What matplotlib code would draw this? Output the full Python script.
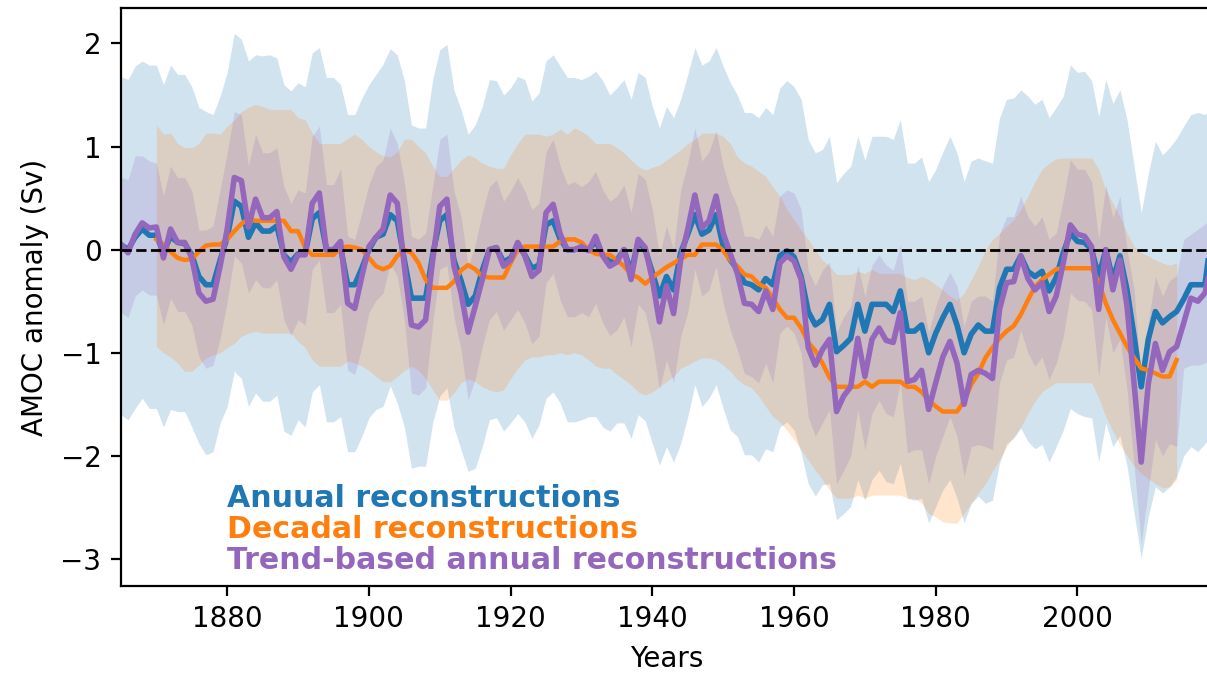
import numpy as np
import matplotlib.pyplot as plt

# annual years 1865-2019, decadal 1870-2014
years = np.arange(1865, 2020)
years_dec = np.arange(1870, 2015)

annual = [
    0.05, 0.0, 0.12, 0.2, 0.14, 0.14, -0.03, 0.13, 0.07, 0.06,
    -0.05, -0.26, -0.34, -0.34, -0.1, 0.12, 0.47, 0.42, 0.12, 0.26,
    0.18, 0.18, 0.23, -0.05, -0.12, -0.04, -0.04, 0.3, 0.36, 0.0,
    0.0, 0.02, -0.34, -0.34, -0.18, 0.0, 0.12, 0.15, 0.34, 0.28,
    -0.1, -0.47, -0.47, -0.47, -0.05, 0.28, 0.34, -0.1, -0.3, -0.53,
    -0.45, -0.2, 0.0, 0.02, -0.12, -0.08, 0.05, -0.05, -0.18, -0.15,
    0.24, 0.28, 0.1, 0.0, 0.0, 0.02, 0.0, 0.08, -0.05, -0.12,
    -0.1, 0.0, -0.22, 0.08, 0.0, -0.22, -0.45, -0.26, -0.39, -0.03,
    0.15, 0.34, 0.15, 0.19, 0.34, 0.03, -0.1, -0.19, -0.32, -0.34,
    -0.39, -0.28, -0.34, -0.06, -0.01, -0.07, -0.26, -0.6, -0.73, -0.68,
    -0.53, -0.99, -0.93, -0.86, -0.53, -0.79, -0.53, -0.53, -0.53, -0.6,
    -0.4, -0.79, -0.79, -0.73, -1.0, -0.81, -0.66, -0.53, -0.73, -1.0,
    -0.82, -0.73, -0.79, -0.79, -0.37, -0.19, -0.19, -0.06, -0.21, -0.26,
    -0.21, -0.4, -0.27, -0.03, 0.16, 0.08, 0.07, 0.0, -0.26, 0.0,
    -0.29, -0.06, -0.39, -0.84, -1.33, -0.87, -0.6, -0.71, -0.65, -0.6,
    -0.48, -0.34, -0.34, -0.34, 0.2,
]
annual_hi = [
    1.68, 1.65, 1.78, 1.83, 1.79, 1.79, 1.6, 1.79, 1.7, 1.7,
    1.58, 1.38, 1.34, 1.31, 1.49, 1.72, 2.1, 2.04, 1.83, 1.89,
    1.88, 1.89, 1.86, 1.6, 1.54, 1.62, 1.58, 1.91, 1.96, 1.67,
    1.67, 1.6, 1.31, 1.31, 1.47, 1.6, 1.7, 1.8, 1.95, 1.89,
    1.64, 1.21, 1.18, 1.18, 1.65, 1.94, 1.99, 1.55, 1.36, 1.12,
    1.21, 1.39, 1.65, 1.64, 1.5, 1.57, 1.68, 1.65, 1.44, 1.52,
    1.83, 1.89, 1.78, 1.67, 1.67, 1.65, 1.68, 1.73, 1.64, 1.5,
    1.57, 1.65, 1.46, 1.72, 1.67, 1.39, 1.18, 1.39, 1.28, 1.46,
    1.7, 1.96, 1.79, 1.83, 1.96, 1.78, 1.62, 1.5, 1.33, 1.33,
    1.28, 1.38, 1.31, 1.57, 1.64, 1.58, 1.46, 1.07, 0.94, 0.97,
    1.1, 0.65, 0.74, 0.81, 1.1, 0.87, 1.1, 1.1, 1.1, 1.07,
    1.26, 0.84, 0.84, 0.9, 0.66, 0.78, 0.95, 1.1, 0.94, 0.66,
    0.86, 0.89, 0.86, 0.84, 1.28, 1.46, 1.47, 1.55, 1.49, 1.41,
    1.46, 1.28, 1.38, 1.49, 1.79, 1.72, 1.73, 1.64, 1.29, 1.65,
    1.42, 1.55, 1.26, 0.81, 0.36, 0.74, 1.05, 0.92, 0.99, 1.08,
    1.2, 1.31, 1.33, 1.31, 1.4,
]
annual_lo = [
    -1.6, -1.65, -1.54, -1.44, -1.54, -1.54, -1.72, -1.55, -1.57, -1.57,
    -1.72, -1.88, -1.99, -1.96, -1.68, -1.52, -1.18, -1.25, -1.52, -1.39,
    -1.47, -1.47, -1.41, -1.76, -1.8, -1.65, -1.72, -1.38, -1.31, -1.67,
    -1.67, -1.62, -1.96, -1.96, -1.81, -1.63, -1.55, -1.52, -1.32, -1.49,
    -1.72, -2.12, -2.1, -2.1, -1.68, -1.42, -1.34, -1.72, -1.94, -2.15,
    -2.12, -1.91, -1.65, -1.63, -1.76, -1.68, -1.59, -1.67, -1.83, -1.7,
    -1.44, -1.38, -1.49, -1.67, -1.67, -1.65, -1.62, -1.62, -1.72, -1.76,
    -1.68, -1.68, -1.83, -1.6, -1.66, -1.88, -2.09, -1.91, -2.06, -1.88,
    -1.62, -1.31, -1.52, -1.44, -1.31, -1.54, -1.75, -1.81, -1.99, -1.99,
    -2.06, -1.93, -1.96, -1.72, -1.67, -1.75, -1.97, -2.27, -2.39, -2.28,
    -2.27, -2.62, -2.56, -2.49, -2.23, -2.43, -2.23, -2.14, -2.25, -2.27,
    -2.07, -2.41, -2.43, -2.41, -2.65, -2.49, -2.33, -2.23, -2.41, -2.65,
    -2.46, -2.39, -2.46, -2.43, -2.07, -1.88, -1.83, -1.73, -1.86, -1.93,
    -1.89, -2.06, -1.91, -1.75, -1.54, -1.59, -1.62, -1.63, -2.06, -1.68,
    -1.91, -1.8, -2.1, -2.56, -2.99, -2.59, -2.3, -2.36, -2.3, -2.2,
    -2.0, -1.91, -1.96, -1.88, -1.8,
]

decadal = [
    0.1, 0.05, -0.02, -0.08, -0.1, -0.09, -0.02, 0.04, 0.05, 0.05,
    0.1, 0.18, 0.25, 0.3, 0.28, 0.28, 0.28, 0.28, 0.28, 0.18,
    0.18, 0.02, -0.05, -0.05, -0.05, -0.05, 0.02, 0.03, 0.02, 0.0,
    -0.08, -0.16, -0.19, -0.16, -0.06, 0.0, -0.03, -0.13, -0.29, -0.37,
    -0.37, -0.37, -0.31, -0.2, -0.15, -0.19, -0.26, -0.27, -0.27, -0.27,
    -0.13, 0.0, 0.03, 0.03, 0.03, 0.03, 0.03, 0.08, 0.1, 0.1,
    0.07, 0.0, -0.04, -0.05, -0.05, -0.1, -0.16, -0.24, -0.27, -0.33,
    -0.27, -0.22, -0.17, -0.13, -0.09, -0.05, -0.05, 0.05, 0.05, 0.05,
    -0.01, -0.1, -0.16, -0.24, -0.26, -0.33, -0.37, -0.47, -0.58, -0.66,
    -0.66, -0.76, -0.9, -0.98, -1.1, -1.24, -1.33, -1.33, -1.33, -1.33,
    -1.28, -1.33, -1.28, -1.28, -1.28, -1.28, -1.33, -1.33, -1.38, -1.46,
    -1.52, -1.57, -1.57, -1.57, -1.47, -1.31, -1.2, -1.05, -0.95, -0.86,
    -0.79, -0.74, -0.63, -0.49, -0.36, -0.29, -0.24, -0.19, -0.18, -0.18,
    -0.18, -0.18, -0.18, -0.31, -0.52, -0.68, -0.81, -0.94, -1.05, -1.15,
    -1.17, -1.2, -1.23, -1.23, -1.07,
]
decadal_hi = [
    1.21, 1.12, 1.13, 1.03, 0.99, 0.99, 1.03, 1.13, 1.13, 1.12,
    1.2, 1.26, 1.34, 1.38, 1.41, 1.39, 1.36, 1.36, 1.36, 1.36,
    1.28, 1.26, 1.13, 1.03, 1.03, 1.03, 1.03, 1.08, 1.12, 1.07,
    1.0, 0.95, 0.91, 0.9, 0.95, 1.07, 1.07, 1.0, 0.94, 0.81,
    0.71, 0.71, 0.79, 0.87, 0.92, 0.89, 0.84, 0.81, 0.79, 0.79,
    0.92, 1.03, 1.12, 1.12, 1.12, 1.1, 1.12, 1.17, 1.12, 1.18,
    1.15, 1.1, 1.03, 1.03, 1.03, 0.99, 0.94, 0.87, 0.81, 0.77,
    0.8, 0.82, 0.87, 0.92, 0.97, 1.03, 1.07, 1.13, 1.13, 1.13,
    1.1, 1.03, 0.9, 0.84, 0.81, 0.76, 0.71, 0.61, 0.52, 0.39,
    0.29, 0.19, 0.1, 0.0, -0.1, -0.16, -0.24, -0.24, -0.24, -0.21,
    -0.23, -0.19, -0.23, -0.23, -0.23, -0.23, -0.27, -0.29, -0.26, -0.29,
    -0.34, -0.39, -0.45, -0.49, -0.42, -0.29, -0.16, 0.0, 0.1, 0.16,
    0.23, 0.29, 0.39, 0.52, 0.66, 0.78, 0.84, 0.88, 0.89, 0.89,
    0.89, 0.89, 0.89, 0.78, 0.58, 0.45, 0.32, 0.16, 0.03, -0.03,
    -0.06, -0.1, -0.13, -0.15, -0.13,
]
decadal_lo = [
    -0.94, -1.0, -1.04, -1.1, -1.18, -1.18, -1.12, -1.05, -1.02, -1.0,
    -0.95, -0.91, -0.84, -0.81, -0.79, -0.81, -0.81, -0.81, -0.81, -0.81,
    -0.89, -0.95, -1.07, -1.13, -1.13, -1.13, -1.13, -1.08, -1.1, -1.13,
    -1.17, -1.23, -1.28, -1.28, -1.23, -1.17, -1.13, -1.17, -1.25, -1.36,
    -1.46, -1.46, -1.39, -1.29, -1.25, -1.28, -1.33, -1.36, -1.38, -1.36,
    -1.25, -1.15, -1.07, -1.04, -1.04, -1.02, -1.02, -1.0, -1.02, -1.0,
    -1.02, -1.07, -1.13, -1.15, -1.15, -1.21, -1.26, -1.31, -1.38, -1.41,
    -1.38, -1.33, -1.28, -1.23, -1.15, -1.12, -1.08, -1.05, -1.05, -1.07,
    -1.12, -1.18, -1.26, -1.31, -1.34, -1.42, -1.52, -1.62, -1.67, -1.75,
    -1.84, -1.94, -2.04, -2.14, -2.23, -2.33, -2.41, -2.41, -2.41, -2.38,
    -2.41, -2.38, -2.38, -2.38, -2.38, -2.38, -2.41, -2.41, -2.46, -2.56,
    -2.59, -2.64, -2.65, -2.65, -2.56, -2.46, -2.36, -2.27, -2.15, -2.04,
    -1.91, -1.81, -1.72, -1.59, -1.47, -1.38, -1.33, -1.29, -1.29, -1.29,
    -1.29, -1.29, -1.29, -1.44, -1.62, -1.76, -1.89, -2.0, -2.1, -2.17,
    -2.22, -2.27, -2.31, -2.3, -2.23,
]

trend = [
    0.05, -0.03, 0.15, 0.26, 0.21, 0.22, -0.08, 0.2, 0.07, 0.07,
    -0.08, -0.42, -0.5, -0.48, -0.16, 0.2, 0.7, 0.67, 0.22, 0.49,
    0.31, 0.31, 0.37, -0.07, -0.19, -0.05, -0.05, 0.45, 0.55, 0.0,
    0.0, 0.08, -0.52, -0.57, -0.26, 0.03, 0.12, 0.2, 0.53, 0.45,
    -0.16, -0.73, -0.75, -0.68, -0.1, 0.42, 0.49, -0.16, -0.42, -0.8,
    -0.55, -0.29, 0.0, 0.02, -0.16, -0.1, 0.07, -0.06, -0.26, -0.2,
    0.36, 0.44, 0.15, 0.0, 0.0, 0.03, -0.01, 0.13, -0.06, -0.16,
    -0.12, 0.0, -0.29, 0.1, 0.02, -0.29, -0.7, -0.35, -0.62, -0.1,
    0.2, 0.53, 0.21, 0.28, 0.52, 0.16, -0.04, -0.23, -0.52, -0.53,
    -0.6, -0.4, -0.58, -0.13, -0.06, -0.11, -0.29, -0.95, -1.12, -0.97,
    -0.87, -1.57, -1.42, -1.33, -0.86, -1.23, -0.87, -0.76, -0.88, -0.9,
    -0.61, -1.28, -1.26, -1.17, -1.55, -1.29, -1.04, -0.89, -1.1, -1.5,
    -1.21, -1.17, -1.2, -1.25, -0.58, -0.32, -0.31, -0.06, -0.28, -0.39,
    -0.32, -0.6, -0.45, -0.13, 0.24, 0.15, 0.13, 0.03, -0.58, 0.0,
    -0.39, -0.1, -0.55, -1.3, -2.06, -1.3, -0.91, -1.17, -0.99, -0.94,
    -0.71, -0.47, -0.5, -0.42, -0.1,
]
trend_hi = [
    0.7, 0.68, 0.91, 0.91, 0.86, 0.84, 0.52, 0.81, 0.7, 0.7,
    0.57, 0.19, 0.19, 0.23, 0.58, 0.94, 1.34, 1.31, 0.81, 1.12,
    0.94, 0.94, 0.99, 0.61, 0.45, 0.58, 0.55, 1.1, 1.2, 0.63,
    0.63, 0.78, 0.13, 0.1, 0.36, 0.63, 0.81, 0.87, 1.18, 1.03,
    0.65, 0.13, 0.1, 0.16, 0.61, 1.07, 1.12, 0.57, 0.32, -0.16,
    0.05, 0.36, 0.61, 0.68, 0.47, 0.57, 0.7, 0.57, 0.39, 0.45,
    0.95, 1.07, 0.81, 0.63, 0.66, 0.61, 0.66, 0.76, 0.58, 0.47,
    0.52, 0.63, 0.36, 0.74, 0.68, 0.39, -0.06, 0.23, 0.0, 0.58,
    0.84, 1.18, 0.86, 0.95, 1.15, 0.81, 0.57, 0.42, 0.13, 0.13,
    0.1, 0.24, 0.13, 0.52, 0.58, 0.55, 0.39, -0.2, -0.35, -0.2,
    -0.12, -0.8, -0.65, -0.55, -0.15, -0.45, -0.15, -0.05, -0.15, -0.2,
    0.05, -0.5, -0.5, -0.45, -0.8, -0.55, -0.35, -0.22, -0.35, -0.75,
    -0.5, -0.45, -0.45, -0.5, 0.15, 0.32, 0.32, 0.52, 0.32, 0.23,
    0.32, 0.1, 0.16, 0.49, 0.87, 0.78, 0.78, 0.66, 0.1, 0.63,
    0.31, 0.52, 0.0, -0.39, -1.3, -0.7, -0.26, -0.45, -0.3, -0.25,
    0.1, 0.15, 0.2, 0.25, 0.3,
]
trend_lo = [
    -0.61, -0.66, -0.45, -0.39, -0.44, -0.44, -0.73, -0.47, -0.6, -0.6,
    -0.73, -1.04, -1.15, -1.12, -0.86, -0.5, -0.06, -0.13, -0.42, -0.29,
    -0.37, -0.37, -0.29, -0.68, -0.83, -0.68, -0.73, -0.19, -0.1, -0.61,
    -0.61, -0.53, -1.17, -1.21, -0.94, -0.61, -0.49, -0.42, -0.13, -0.26,
    -0.68, -1.39, -1.41, -1.34, -0.71, -0.19, -0.15, -0.65, -0.97, -1.46,
    -1.25, -0.94, -0.68, -0.6, -0.78, -0.68, -0.58, -0.71, -0.91, -0.84,
    -0.32, -0.23, -0.49, -0.65, -0.65, -0.61, -0.65, -0.52, -0.71, -0.83,
    -0.78, -0.65, -0.94, -0.53, -0.61, -0.91, -1.35, -1.07, -1.29, -0.84,
    -0.61, -0.19, -0.45, -0.39, -0.16, -0.52, -0.78, -0.97, -1.2, -1.23,
    -1.29, -1.1, -1.29, -0.81, -0.74, -0.81, -1.0, -1.62, -1.81, -1.68,
    -1.55, -2.27, -2.14, -2.0, -1.55, -1.94, -1.59, -1.46, -1.59, -1.62,
    -1.29, -1.97, -1.94, -1.94, -2.27, -2.0, -1.81, -1.62, -1.81, -2.2,
    -1.91, -1.89, -1.91, -1.94, -1.29, -1.07, -1.04, -0.78, -1.0, -1.13,
    -1.04, -1.26, -1.1, -0.84, -0.42, -0.49, -0.5, -0.58, -1.23, -0.65,
    -1.0, -0.87, -1.36, -2.1, -2.85, -2.33, -1.84, -2.0, -1.88, -1.91,
    -1.15, -1.12, -1.12, -1.1, -1.05,
]

labels = ['Anuual reconstructions', 'Decadal reconstructions',
          'Trend-based annual reconstructions']

fig = plt.figure(figsize=(6.035, 3.385), dpi=200)
ax = fig.add_axes([0.1002, 0.1344, 0.904, 0.8538])

# uncertainty bands
ax.fill_between(years, annual_lo, annual_hi, color='C0', alpha=0.2, lw=0)
ax.fill_between(years_dec, decadal_lo, decadal_hi, color='C1', alpha=0.2, lw=0)
ax.fill_between(years, trend_lo, trend_hi, color='C4', alpha=0.2, lw=0)

ax.plot(years, annual, color='C0', lw=2)
ax.plot(years_dec, decadal, color='C1', lw=1.6)
ax.plot(years, trend, color='C4', lw=2)
ax.axhline(0, color='k', ls='--', lw=1)

# coloured text instead of a legend
for yv, lab, c in zip([-2.5, -2.8, -3.1], labels, ['C0', 'C1', 'C4']):
    ax.text(1880, yv, lab, color=c, fontweight='bold', fontsize=10.8)

ax.set_xlim(1865, 2019)
ax.set_ylim(-3.262, 2.344)
ax.set_xticks([1880, 1900, 1920, 1940, 1960, 1980, 2000])
ax.set_xlabel('Years')
ax.set_ylabel('AMOC anomaly (Sv)')

fig.savefig('out.png', dpi=200)
